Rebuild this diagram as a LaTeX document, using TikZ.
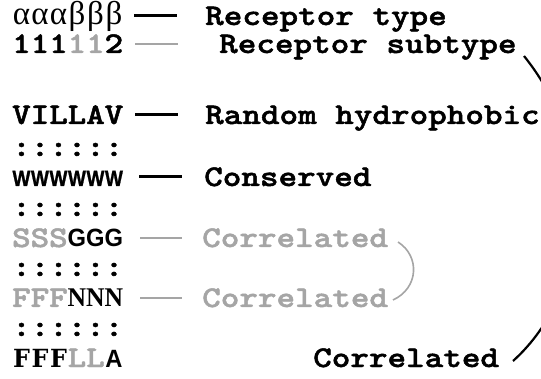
\documentclass[tikz,border=0pt]{standalone}
\usepackage{fontspec}
\usepackage{graphicx}
\setmainfont{Liberation Serif}
\newfontfamily\sansfam{Liberation Sans}
\newfontfamily\heavysans{Liberation Sans Bold}[FakeBold=1.2]
\newfontfamily\seriffam{Liberation Serif}
\newfontfamily\slabfam{DejaVu Serif}
% heavy typewriter face at a Courier-like pitch
\newfontfamily\twfam{lmmonolt10-bold.otf}[FakeBold=1.6, FakeStretch=1.18]
\definecolor{halfgrey}{RGB}{165,165,165}

\newcommand\tw[1]{{\twfam\fontsize{30}{30}\selectfont #1}}
% fonts for the residue letters
\newcommand\fCB[1]{\tw{#1}}
\newcommand\fCG[1]{\textcolor{halfgrey}{\tw{#1}}}
\newcommand\fGreek[1]{{\seriffam\fontsize{33}{33}\selectfont #1}}
\newcommand\fSansB[1]{\scalebox{0.95}[1]{\sansfam\bfseries\fontsize{25}{25}\selectfont #1}}
\newcommand\fSansW[1]{\scalebox{0.86}[1]{\heavysans\fontsize{22}{22}\selectfont #1}}
\newcommand\fSerB[1]{\scalebox{0.95}[1]{\seriffam\bfseries\fontsize{27}{27}\selectfont #1}}
\newcommand\fSlab[1]{\scalebox{0.95}[1]{\slabfam\bfseries\fontsize{25}{25}\selectfont #1}}
% one fixed-width column of the alignment
\newcommand\cel[2]{\makebox[18.5pt]{#1{#2}}}

\tikzset{
  seqrow/.style={inner sep=0pt, anchor=base west},
  lab/.style={inner sep=0pt, anchor=base west},
  dashb/.style={line width=3pt, black},
  dashg/.style={line width=2pt, halfgrey},
  bracket/.style={line width=2.2pt, black},
  bracketg/.style={line width=1.6pt, halfgrey},
}

\begin{document}
\begin{tikzpicture}[x=1pt, y=-1pt]
\useasboundingbox (0,0) rectangle (541,379);
\clip (0,0) rectangle (541,379);

% alignment columns
\node[seqrow] (r1) at (12,25)
  {\cel\fGreek{α}\cel\fGreek{α}\cel\fGreek{α}\cel\fGreek{β}\cel\fGreek{β}\cel\fGreek{β}};
\node[seqrow] (r2) at (12,53)
  {\cel\fCB{1}\cel\fCB{1}\cel\fCB{1}\cel\fCG{1}\cel\fCG{1}\cel\fCB{2}};
\node[seqrow] (r3) at (12,124)
  {\cel\fCB{V}\cel\fCB{I}\cel\fCB{L}\cel\fCB{L}\cel\fCB{A}\cel\fCB{V}};
\node[seqrow] (c1) at (12,156)
  {\cel\fCB{:}\cel\fCB{:}\cel\fCB{:}\cel\fCB{:}\cel\fCB{:}\cel\fCB{:}};
\node[seqrow] (r4) at (12,186)
  {\cel\fSansW{W}\cel\fSansW{W}\cel\fSansW{W}\cel\fSansW{W}\cel\fSansW{W}\cel\fSansW{W}};
\node[seqrow] (c2) at (12,216)
  {\cel\fCB{:}\cel\fCB{:}\cel\fCB{:}\cel\fCB{:}\cel\fCB{:}\cel\fCB{:}};
\node[seqrow] (r5) at (12,247)
  {\cel\fCG{S}\cel\fCG{S}\cel\fCG{S}\cel\fSansB{G}\cel\fSansB{G}\cel\fSansB{G}};
\node[seqrow] (c3) at (12,276)
  {\cel\fCB{:}\cel\fCB{:}\cel\fCB{:}\cel\fCB{:}\cel\fCB{:}\cel\fCB{:}};
\node[seqrow] (r6) at (12,307)
  {\cel\fCG{F}\cel\fCG{F}\cel\fCG{F}\cel\fSerB{N}\cel\fSerB{N}\cel\fSerB{N}};
\node[seqrow] (c4) at (12,336)
  {\cel\fCB{:}\cel\fCB{:}\cel\fCB{:}\cel\fCB{:}\cel\fCB{:}\cel\fCB{:}};
\node[seqrow] (r7) at (12,367)
  {\cel\fSlab{F}\cel\fSlab{F}\cel\fSlab{F}\cel\fCG{L}\cel\fCG{L}\cel\fSansB{A}};

% labels
\node[lab] (l1) at (205,25)  {\tw{Receptor type}};
\node[lab] (l2) at (219,53)  {\tw{Receptor subtype}};
\node[lab] (l3) at (205,124) {\tw{Random hydrophobic}};
\node[lab] (l4) at (204,186) {\tw{Conserved}};
\node[lab] (l5) at (202,247) {\textcolor{halfgrey}{\tw{Correlated}}};
\node[lab] (l6) at (202,307) {\textcolor{halfgrey}{\tw{Correlated}}};
\node[lab] (l7) at (313,367) {\tw{Correlated}};

% dashes from the columns to their labels
\coordinate (d1a) at (134,16);  \coordinate (d1b) at (177,16);
\coordinate (d2a) at (135,44);  \coordinate (d2b) at (178,44);
\coordinate (d3a) at (135,115); \coordinate (d3b) at (178,115);
\coordinate (d4a) at (139,177); \coordinate (d4b) at (182,177);
\coordinate (d5a) at (140,238); \coordinate (d5b) at (182,238);
\coordinate (d6a) at (140,298); \coordinate (d6b) at (182,298);
\draw[dashb] (d1a) -- (d1b);
\draw[dashg] (d2a) -- (d2b);
\draw[dashb] (d3a) -- (d3b);
\draw[dashb] (d4a) -- (d4b);
\draw[dashg] (d5a) -- (d5b);
\draw[dashg] (d6a) -- (d6b);

% brackets joining correlated positions
\coordinate (gTop) at (398,242);
\coordinate (gBot) at (393,300);
\draw[bracketg] (gTop) .. controls (420,256) and (419,288) .. (gBot);

\coordinate (bTop) at (524,56);
\coordinate (bBot) at (513,361);
\draw[bracket] (bTop) .. controls (600,150) and (592,290) .. (bBot);
\end{tikzpicture}
\end{document}
